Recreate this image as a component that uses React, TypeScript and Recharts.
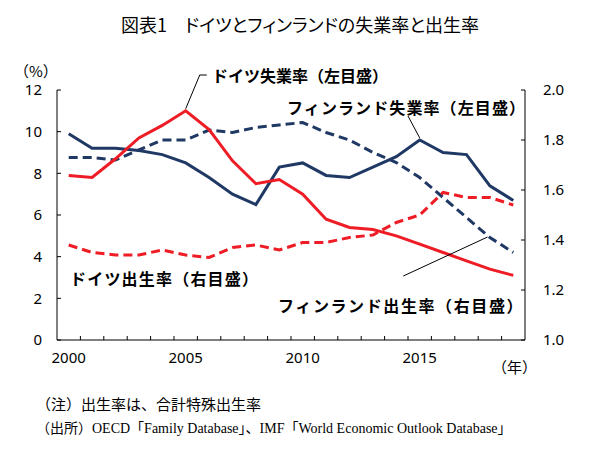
import { LineChart, Line, XAxis, YAxis, ReferenceLine } from 'recharts'

const years = [2000, 2001, 2002, 2003, 2004, 2005, 2006, 2007, 2008, 2009, 2010, 2011, 2012, 2013, 2014, 2015, 2016, 2017, 2018, 2019]
// unemployment (%), left axis
const deUnemp = [7.9, 7.8, 8.7, 9.7, 10.3, 11.0, 10.1, 8.6, 7.5, 7.7, 7.0, 5.8, 5.4, 5.3, 5.0, 4.6, 4.2, 3.8, 3.4, 3.1]
const fiUnemp = [9.9, 9.2, 9.2, 9.1, 8.9, 8.5, 7.8, 7.0, 6.5, 8.3, 8.5, 7.9, 7.8, 8.3, 8.8, 9.6, 9.0, 8.9, 7.4, 6.7]
// total fertility rate, right axis
const deFert = [1.38, 1.35, 1.34, 1.34, 1.36, 1.34, 1.33, 1.37, 1.38, 1.36, 1.39, 1.39, 1.41, 1.42, 1.47, 1.5, 1.59, 1.57, 1.57, 1.54]
const fiFert = [1.73, 1.73, 1.72, 1.76, 1.8, 1.8, 1.84, 1.83, 1.85, 1.86, 1.87, 1.83, 1.8, 1.75, 1.71, 1.65, 1.57, 1.49, 1.41, 1.35]

const yearLabels = [2000, 2005, 2010, 2015]
// tick marks sit between the years
const minorTicks = [2000.5, 2001.5, 2002.5, 2003.5, 2004.5, 2005.5, 2006.5, 2007.5, 2008.5, 2009.5, 2010.5, 2011.5, 2012.5, 2013.5, 2014.5, 2015.5, 2016.5, 2017.5, 2018.5]
const leftTicks = [0, 2, 4, 6, 8, 10, 12]
const rightTicks = [1.0, 1.2, 1.4, 1.6, 1.8, 2.0]

const NAVY = '#1F3864'
const RED = '#EE1C25'
const JP = '"Noto Sans CJK JP", "Noto Sans", sans-serif'
const FONT = { fontSize: 15, fill: '#000', fontFamily: '"Noto Sans", sans-serif' }

const data = years.map((year, i) => ({
    year,
    deUnemp: deUnemp[i],
    fiUnemp: fiUnemp[i],
    deFert: deFert[i],
    fiFert: fiFert[i],
}))

// custom ticks: short inward mark + label
const XTick = ({ x, y, payload }: any) =>
    Number.isInteger(payload.value) ? (
        <text x={x} y={y + 12} dy="0.71em" textAnchor="middle" {...FONT}>{payload.value}</text>
    ) : (
        <line x1={x} x2={x} y1={y} y2={y - 4} stroke="#000" />
    )

const LeftTick = ({ x, y, payload }: any) => (
    <g>
        <line x1={x} x2={x + 4} y1={y} y2={y} stroke="#000" />
        <text x={x - 15} y={y} dy="0.355em" textAnchor="end" {...FONT}>{payload.value}</text>
    </g>
)

const RightTick = ({ x, y, payload }: any) => (
    <g>
        <line x1={x} x2={x - 4} y1={y} y2={y} stroke="#000" />
        <text x={x + 18} y={y} dy="0.355em" textAnchor="start" {...FONT}>{Number(payload.value).toFixed(1)}</text>
    </g>
)

const label = (left: number, top: number, text: string, spacing = 0, bold = true, size = 16) => (
    <div
        style={{
            position: 'absolute', left, top, lineHeight: '16px', fontSize: size, letterSpacing: spacing,
            fontWeight: bold ? 700 : 400, fontFamily: JP, whiteSpace: 'nowrap', color: '#000',
        }}
    >
        {text}
    </div>
)

export default function App() {
    return (
        <div style={{ position: 'absolute', left: 0, top: 0, width: 600, height: 450, background: '#fff', fontFamily: JP }}>
            <div
                style={{
                    position: 'absolute', left: 0, top: 13, width: 600, textAlign: 'center',
                    fontSize: 18, lineHeight: '22px', fontFeatureSettings: '"palt"', color: '#000',
                }}
            >
                図表1　ドイツとフィンランドの失業率と出生率
            </div>

            <LineChart width={600} height={450} data={data} margin={{ top: 90, right: 0, bottom: 80, left: 0 }}>
                <XAxis
                    dataKey="year" type="number" domain={[1999.5, 2019.5]}
                    ticks={[...yearLabels, ...minorTicks]} interval={0} tickSize={0} tickMargin={0} height={30}
                    axisLine={{ stroke: '#000' }} tickLine={false} tick={XTick}
                />
                <YAxis
                    yAxisId="left" domain={[0, 12]} ticks={leftTicks} width={57} interval={0}
                    tickSize={0} tickMargin={0} tick={LeftTick}
                    axisLine={{ stroke: '#000' }} tickLine={false}
                />
                <YAxis
                    yAxisId="right" orientation="right" domain={[1, 2]} ticks={rightTicks} width={75} interval={0}
                    tickSize={0} tickMargin={0} tick={RightTick}
                    axisLine={{ stroke: '#000' }} tickLine={false}
                />
                <Line yAxisId="right" dataKey="fiFert" stroke={NAVY} strokeWidth={3} strokeDasharray="9 5" dot={false} isAnimationActive={false} />
                <Line yAxisId="right" dataKey="deFert" stroke={RED} strokeWidth={3} strokeDasharray="9 5" dot={false} isAnimationActive={false} />
                <Line yAxisId="left" dataKey="fiUnemp" stroke={NAVY} strokeWidth={3} dot={false} isAnimationActive={false} />
                <Line yAxisId="left" dataKey="deUnemp" stroke={RED} strokeWidth={3} dot={false} isAnimationActive={false} />

                {/* leader lines */}
                <ReferenceLine yAxisId="left" ifOverflow="visible" stroke="#000" strokeWidth={1}
                    segment={[{ x: 2005, y: 11.1 }, { x: 2005.6, y: 12.72 }]} />
                <ReferenceLine yAxisId="left" ifOverflow="visible" stroke="#000" strokeWidth={1}
                    segment={[{ x: 2005.6, y: 12.72 }, { x: 2005.9, y: 12.72 }]} />
                <ReferenceLine yAxisId="left" ifOverflow="visible" stroke="#000" strokeWidth={1}
                    segment={[{ x: 2014.5, y: 10.75 }, { x: 2015, y: 9.7 }]} />
                <ReferenceLine yAxisId="right" ifOverflow="visible" stroke="#000" strokeWidth={1}
                    segment={[{ x: 2014.3, y: 1.256 }, { x: 2017.9, y: 1.412 }]} />
            </LineChart>

            {label(14, 63, '（%）', 0, false, 15)}
            {label(492, 359, '（年）', 0, false, 15)}
            {label(212, 67, 'ドイツ失業率（左目盛）')}
            {label(287, 99, 'フィンランド失業率（左目盛）', 1.1)}
            {label(70, 270, 'ドイツ出生率（右目盛）', 1.2)}
            {label(278, 297, 'フィンランド出生率（右目盛）', 1.6)}

            <div
                style={{
                    position: 'absolute', left: 36, top: 394, lineHeight: '23px',
                    fontFamily: '"Liberation Serif", "Noto Sans CJK JP", serif',
                    color: '#000', whiteSpace: 'nowrap',
                }}
            >
                <div style={{ fontSize: 15 }}>（注）出生率は、合計特殊出生率</div>
                <div style={{ fontSize: 14 }}>（出所）OECD「Family Database」、IMF「World Economic Outlook Database」</div>
            </div>
        </div>
    )
}
